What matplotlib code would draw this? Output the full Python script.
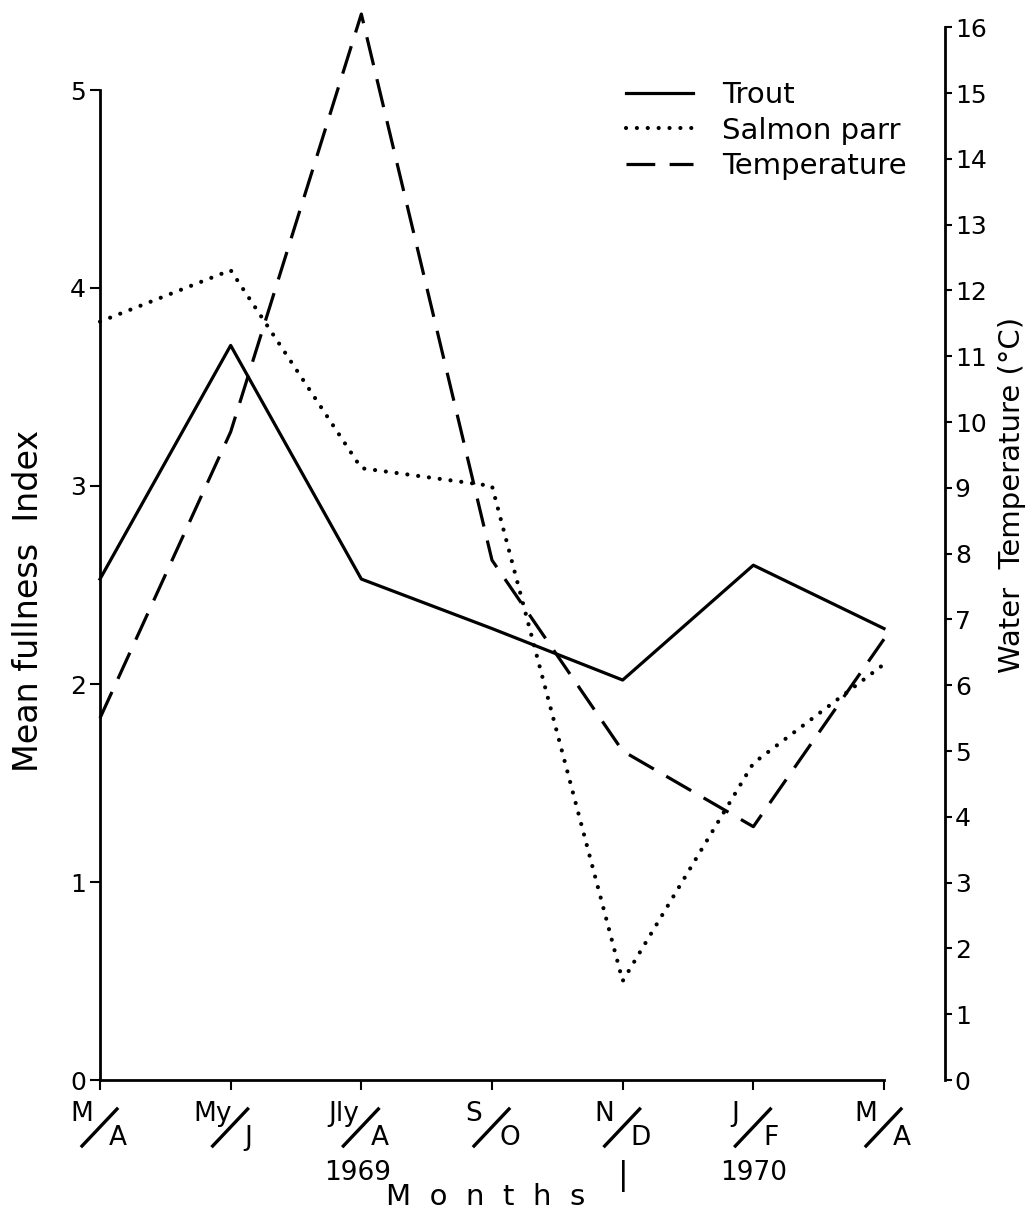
import numpy as np
import matplotlib
matplotlib.use("Agg")
import matplotlib.pyplot as plt
from matplotlib.lines import Line2D
from matplotlib.transforms import Affine2D

# data
num_labels = ["M", "My", "Jly", "S", "N", "J", "M"]
den_labels = ["A", "J", "A", "O", "D", "F", "A"]
trout = [2.53, 3.71, 2.53, 2.28, 2.02, 2.60, 2.28]
salmon = [3.83, 4.09, 3.09, 3.00, 0.50, 1.60, 2.10]
temperature = [5.5, 9.85, 16.2, 7.9, 5.0, 3.85, 6.7]
x = np.arange(len(trout))

plt.rcParams['font.family'] = ['DejaVu Sans']
FS = 18

fig = plt.figure(figsize=(10.34, 12.18), dpi=100)
ax = fig.add_axes([100 / 1034, 138 / 1218, 784 / 1034, 1080 / 1218])
ax2 = ax.twinx()

l1, = ax.plot(x, trout, color="black", lw=2.3, clip_on=False)
l2, = ax.plot(x, salmon, color="black", lw=3.0, linestyle=(0, (0.01, 2.6)),
              dash_capstyle="round", clip_on=False)
l3, = ax2.plot(x, temperature, color="black", lw=2.3, linestyle=(0, (9, 4.5)),
               clip_on=False)

ax.set_xlim(0, 6)
ax.set_ylim(0, 1080 / 198)
ax2.set_ylim(0, 1080 / 65.8)

for a in (ax, ax2):
    a.spines["top"].set_visible(False)
    a.patch.set_visible(False)
ax.spines["right"].set_visible(False)
ax2.spines["left"].set_visible(False)
ax2.spines["bottom"].set_visible(False)
ax.spines["left"].set_bounds(0, 5)
ax2.spines["right"].set_bounds(0, 16)
ax2.spines["right"].set_position(("outward", 44))
for s in ("left", "bottom"):
    ax.spines[s].set_linewidth(2)
ax2.spines["right"].set_linewidth(2)

ax.set_yticks(range(6))
ax.set_xticks(x)
ax.set_xticklabels([])
ax2.set_yticks(range(17))
ax.tick_params(axis="y", direction="out", length=7, width=1.5, labelsize=FS, pad=3)
ax.tick_params(axis="x", direction="out", length=7, width=1.5)
ax2.tick_params(axis="y", direction="out", length=5, width=1.5, labelsize=FS, pad=2)

ax.set_ylabel("Mean fullness  Index", fontsize=24)
ax.yaxis.set_label_coords(-0.07, 0.444)
ax2.set_ylabel("Water  Temperature (°C)", fontsize=21)
ax2.yaxis.set_label_coords(1.145, 0.542)

# fraction-style month labels under the ticks
MS = 19
fig.canvas.draw()
for i in x:
    px, py = ax.transData.transform((i, 0))
    ax.annotate(num_labels[i], xy=(i, 0), xycoords=("data", "axes fraction"),
                xytext=(-18, -34), textcoords="offset pixels",
                ha="center", va="center", fontsize=MS)
    ax.annotate(den_labels[i], xy=(i, 0), xycoords=("data", "axes fraction"),
                xytext=(18, -58), textcoords="offset pixels",
                ha="center", va="center", fontsize=MS)
    fig.add_artist(Line2D([-18, 17], [-66, -29], color="black", lw=2.4,
                          transform=Affine2D().translate(px, py)))

ax.annotate("1969", xy=(2, 0), xycoords=("data", "axes fraction"),
            xytext=(-4, -93), textcoords="offset pixels",
            ha="center", va="center", fontsize=MS)
ax.annotate("1970", xy=(5, 0), xycoords=("data", "axes fraction"),
            xytext=(0, -93), textcoords="offset pixels",
            ha="center", va="center", fontsize=MS)
ax.annotate("|", xy=(4, 0), xycoords=("data", "axes fraction"),
            xytext=(1, -96), textcoords="offset pixels",
            ha="center", va="center", fontsize=MS + 4)
ax.annotate("M  o  n  t  h  s", xy=(0.492, 0), xycoords="axes fraction",
            xytext=(0, -117), textcoords="offset pixels",
            ha="center", va="center", fontsize=21)

ax.legend([l1, l2, l3], ["Trout", "Salmon parr", "Temperature"],
          loc="upper left", bbox_to_anchor=(600 / 1034, 1 - 55 / 1218),
          bbox_transform=fig.transFigure, frameon=False, fontsize=21,
          handlelength=2.3, handletextpad=1.0, labelspacing=0.25)

fig.savefig("out.png", dpi=100)
